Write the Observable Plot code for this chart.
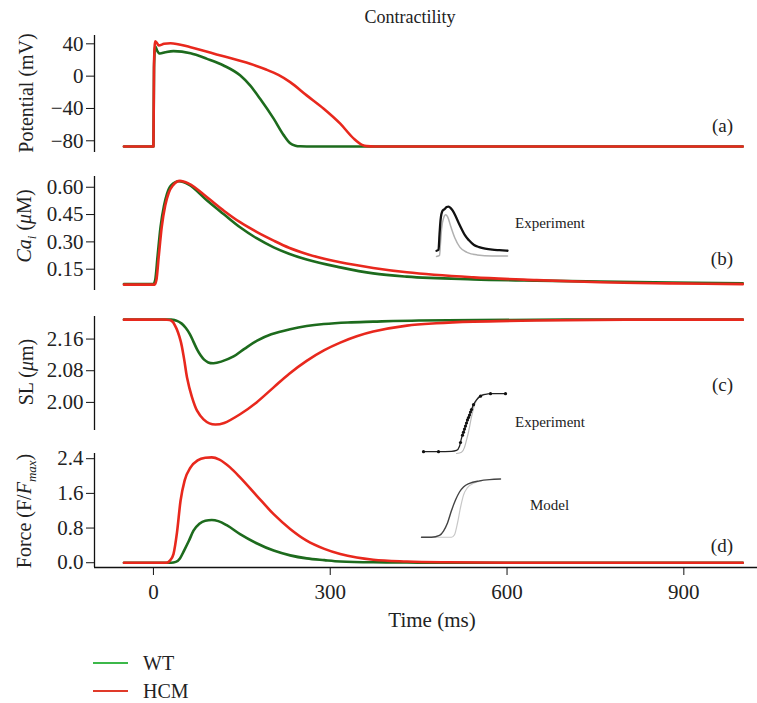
<!DOCTYPE html>
<html><head><meta charset="utf-8">
<script src="https://cdn.jsdelivr.net/npm/d3@7"></script>
<script src="https://cdn.jsdelivr.net/npm/@observablehq/plot@0.6"></script>
<style>
body{margin:0;background:#fff;}
#chart{position:relative;width:757px;height:703px;font-family:"Liberation Serif",serif;color:#222;overflow:hidden;}
#chart svg{position:absolute;left:0;overflow:visible;background:transparent;}
.t{position:absolute;white-space:nowrap;line-height:1;}
.ylab{position:absolute;white-space:nowrap;line-height:1;transform:translate(-50%,-50%) rotate(-90deg);font-size:20px;}
.sw{position:absolute;height:0;width:35px;border-top:2px solid;}
</style></head><body><div id="chart"></div><script>
// ---------- data ----------
const seriesNames = ["WT", "HCM"];
const xTicks = [0, 300, 600, 900];

// (a) membrane potential, mV
const wtVoltT = [-50, -1, 0, 1, 3, 6, 11, 20, 34, 63, 91, 119, 147, 164, 181, 204, 221, 232, 241, 249, 260, 300, 400, 600, 800, 1000];
const wtVolt  = [-87, -87, -87, 10, 37, 32, 28, 29.5, 31, 28.4, 21.4, 13.2, 1, -11.5, -28, -52.6, -73, -83, -86, -86.8, -87, -87, -87, -87, -87, -87];
const hcmVoltT = [-50, -1, 0, 1, 3, 6, 9, 18, 29, 63, 114, 164, 190, 212, 232, 260, 289, 317, 340, 354, 362, 375, 400, 600, 800, 1000];
const hcmVolt  = [-87, -87, -87, 15, 43, 41, 38, 40, 40.8, 35.8, 25.5, 15.3, 8.5, 1.5, -7.4, -23.8, -40.3, -58.8, -77.3, -85, -86.6, -87, -87, -87, -87, -87];
const voltTicks = [-80, -40, 0, 40];

// (b) Ca_i, uM
const wtCaT = [-50, 0, 3, 7, 12, 18, 23, 30, 43, 60, 91, 120, 147, 175, 204, 230, 260, 317, 373, 430, 543, 650, 758, 880, 1000];
const wtCa  = [0.069, 0.069, 0.09, 0.22, 0.38, 0.5, 0.564, 0.61, 0.633, 0.615, 0.527, 0.45, 0.38, 0.32, 0.27, 0.235, 0.203, 0.16, 0.127, 0.109, 0.094, 0.087, 0.082, 0.077, 0.073];
const hcmCaT = [-50, 2, 5, 9, 14, 20, 26, 33, 45, 60, 91, 120, 147, 175, 204, 230, 260, 317, 373, 430, 543, 650, 758, 880, 1000];
const hcmCa  = [0.065, 0.065, 0.09, 0.22, 0.38, 0.5, 0.57, 0.61, 0.635, 0.62, 0.545, 0.47, 0.408, 0.355, 0.307, 0.268, 0.234, 0.188, 0.157, 0.133, 0.105, 0.09, 0.078, 0.072, 0.068];
const caTicks = [0.15, 0.30, 0.45, 0.60];

// (c) sarcomere length, um
const wtSlT = [-50, 0, 30, 40, 48, 55, 62, 68, 74, 80, 86, 93, 102, 115, 136, 155, 176, 200, 232, 260, 289, 330, 373, 450, 550, 700, 1000];
const wtSl  = [2.209, 2.209, 2.209, 2.206, 2.199, 2.188, 2.172, 2.153, 2.134, 2.119, 2.108, 2.101, 2.099, 2.103, 2.116, 2.136, 2.156, 2.172, 2.185, 2.193, 2.198, 2.202, 2.204, 2.207, 2.208, 2.209, 2.209];
const hcmSlT = [-50, 0, 20, 31, 38, 46, 52, 57, 65, 74, 85, 95, 105, 120, 147, 175, 204, 230, 260, 290, 317, 345, 373, 430, 480, 543, 650, 800, 1000];
const hcmSl  = [2.209, 2.209, 2.209, 2.206, 2.19, 2.156, 2.11, 2.063, 2.015, 1.979, 1.957, 1.947, 1.944, 1.948, 1.97, 2.0, 2.038, 2.072, 2.105, 2.132, 2.151, 2.167, 2.179, 2.194, 2.2, 2.204, 2.207, 2.209, 2.209];
const slTicks = [2.00, 2.08, 2.16];

// (d) force, F/Fmax
const wtForceT = [-50, -20, 0, 20, 30, 38, 45, 52, 60, 68, 78, 88, 99, 110, 125, 147, 175, 204, 232, 260, 290, 317, 373, 430, 500, 600, 800, 1000];
const wtForce  = [0, 0, 0, 0, 0, 0.02, 0.1, 0.28, 0.5, 0.74, 0.9, 0.97, 0.985, 0.96, 0.86, 0.66, 0.45, 0.28, 0.17, 0.1, 0.06, 0.03, 0.01, 0.005, 0, 0, 0, 0];
const hcmForceT = [-50, -20, 0, 15, 22, 28, 34, 40, 46, 53, 63, 75, 88, 99, 112, 130, 147, 175, 204, 232, 260, 290, 317, 345, 373, 430, 500, 600, 800, 1000];
const hcmForce  = [0, 0, 0, 0, 0, 0.05, 0.2, 0.7, 1.43, 1.9, 2.2, 2.36, 2.42, 2.43, 2.38, 2.2, 1.97, 1.55, 1.12, 0.78, 0.51, 0.32, 0.2, 0.12, 0.07, 0.03, 0.01, 0, 0, 0];
const forceTicks = [0.0, 0.8, 1.6, 2.4];

// insets (normalised picture units)
const insCaT     = [0, 2, 3, 4, 6, 8, 10, 12, 14, 16, 19, 22, 25, 28, 32, 37, 42, 48, 55, 62, 70];
const insCaBlack = [0.13, 0.15, 0.45, 0.72, 0.9, 0.93, 0.97, 0.98, 0.95, 0.9, 0.79, 0.66, 0.54, 0.43, 0.33, 0.24, 0.2, 0.17, 0.15, 0.14, 0.13];
const insCaGrayT = [0, 3, 4, 5, 7, 9, 11, 14, 18, 23, 30, 40, 55, 70];
const insCaGray  = [0.02, 0.04, 0.3, 0.55, 0.76, 0.82, 0.78, 0.6, 0.38, 0.2, 0.1, 0.05, 0.03, 0.03];

const insSlT     = [0, 15, 28, 33, 36, 38, 40, 42, 44, 46, 48, 50, 53, 57, 62, 67, 75, 82];
const insSlBlack = [0.03, 0.03, 0.035, 0.05, 0.12, 0.25, 0.35, 0.45, 0.55, 0.63, 0.72, 0.8, 0.88, 0.94, 0.97, 0.98, 0.98, 0.98];
const insSlDotT  = [0, 15, 37, 39, 40, 41, 42, 43, 44, 45, 46, 47, 48, 50, 57, 67, 82];
const insSlDot   = [0.03, 0.03, 0.18, 0.3, 0.35, 0.4, 0.45, 0.5, 0.55, 0.59, 0.63, 0.68, 0.72, 0.8, 0.94, 0.98, 0.98];
const insSlGrayT = [33, 38, 41, 43, 45, 48, 51, 55, 60];
const insSlGray  = [0.0, 0.02, 0.1, 0.22, 0.35, 0.6, 0.8, 0.92, 0.97];

const insModT     = [0, 10, 18, 22, 26, 30, 34, 38, 42, 48, 58, 68, 79];
const insModBlack = [0.02, 0.02, 0.05, 0.12, 0.25, 0.45, 0.62, 0.75, 0.83, 0.89, 0.93, 0.95, 0.96];
const insModGrayT = [0, 30, 33, 36, 39, 42, 46, 52, 60];
const insModGray  = [0.02, 0.02, 0.06, 0.25, 0.5, 0.7, 0.82, 0.89, 0.93];

// ---------- drawing ----------
const GREEN = "#1d6b1d", RED = "#e8281d";
const chart = document.getElementById("chart");
const W = 757, ML = 94, MT = 12, MB = 12;
const xDomain = [-100, 1025];

function tidy(wt, hcm) {
  return [
    ...wt[0].map((t, i) => ({t, v: wt[1][i], s: seriesNames[0]})),
    ...hcm[0].map((t, i) => ({t, v: hcm[1][i], s: seriesNames[1]}))
  ];
}

function panel(o) {
  const mb = o.xaxis ? 72 : MB;
  const h = MT + o.h + mb;
  const marks = [
    Plot.ruleX([xDomain[0]], {stroke: "#111", strokeWidth: 1.3}),
    Plot.axisY({ticks: o.ticks, tickFormat: o.fmt, tickSize: 8, tickPadding: 3, label: null, stroke: "#111"}),
    Plot.line(tidy(o.wt, o.hcm), {x: "t", y: "v", z: "s", stroke: "s", strokeWidth: 2.6, curve: o.curve || "catmull-rom"})
  ];
  if (o.xaxis) {
    marks.push(Plot.ruleY([o.yd[0]], {stroke: "#111", strokeWidth: 1.3}));
    marks.push(Plot.axisX({ticks: xTicks, tickSize: 8, tickPadding: 9, label: null, stroke: "#111"}));
  }
  const p = Plot.plot({
    width: W, height: h,
    marginLeft: ML, marginRight: 0, marginTop: MT, marginBottom: mb,
    style: {fontFamily: "Liberation Serif, serif", fontSize: "21px", color: "#222", background: "transparent"},
    x: {domain: xDomain, axis: o.xaxis ? undefined : null},
    y: {domain: o.yd},
    color: {domain: seriesNames, range: [GREEN, RED]},
    marks
  });
  p.style.top = (o.top - MT) + "px";
  chart.appendChild(p);
}

panel({top: 35, h: 117, yd: [-94.5, 50.3], ticks: voltTicks, fmt: d3.format(""), wt: [wtVoltT, wtVolt], hcm: [hcmVoltT, hcmVolt], curve: "monotone-x"});
panel({top: 176, h: 114, yd: [0.033, 0.659], ticks: caTicks, fmt: d3.format(".2f"), wt: [wtCaT, wtCa], hcm: [hcmCaT, hcmCa], curve: "monotone-x"});
panel({top: 316, h: 114, yd: [1.929, 2.217], ticks: slTicks, fmt: d3.format(".2f"), wt: [wtSlT, wtSl], hcm: [hcmSlT, hcmSl]});
panel({top: 453, h: 114, yd: [-0.11, 2.52], ticks: forceTicks, fmt: d3.format(".1f"), wt: [wtForceT, wtForce], hcm: [hcmForceT, hcmForce], xaxis: true, curve: "monotone-x"});

function inset(o) {
  const marks = o.lines.map(l => Plot.line(l.t.map((t, i) => ({t, v: l.v[i]})), {x: "t", y: "v", stroke: l.c, strokeWidth: l.w, curve: "monotone-x"}));
  if (o.dots) marks.push(Plot.dot(o.dots.t.map((t, i) => ({t, v: o.dots.v[i]})), {x: "t", y: "v", r: 1.6, fill: "#111"}));
  const p = Plot.plot({
    width: o.w, height: o.h, margin: 0,
    style: {background: "transparent"},
    x: {domain: o.xd, axis: null}, y: {domain: [0, 1], axis: null},
    marks
  });
  p.style.left = o.left + "px";
  p.style.top = o.top + "px";
  chart.appendChild(p);
}
inset({left: 436, top: 205, w: 71, h: 52, xd: [0, 70], lines: [
  {t: insCaGrayT, v: insCaGray, c: "#b0b0b0", w: 1.5},
  {t: insCaT, v: insCaBlack, c: "#111", w: 2.3}]});
inset({left: 423, top: 392, w: 83, h: 61, xd: [0, 83], lines: [
  {t: insSlGrayT, v: insSlGray, c: "#bbb", w: 1.2},
  {t: insSlT, v: insSlBlack, c: "#222", w: 1.3}], dots: {t: insSlDotT, v: insSlDot}});
inset({left: 421, top: 476, w: 80, h: 62, xd: [0, 80], lines: [
  {t: insModGrayT, v: insModGray, c: "#c8c8c8", w: 1.2},
  {t: insModT, v: insModBlack, c: "#444", w: 1.4}]});

// ---------- text ----------
function txt(html, left, top, size, extra) {
  const d = document.createElement("div");
  d.className = "t";
  d.innerHTML = html;
  d.style.left = left + "px";
  d.style.top = top + "px";
  d.style.fontSize = size + "px";
  if (extra) Object.assign(d.style, extra);
  chart.appendChild(d);
  return d;
}
txt("Contractility", 410, 17, 18, {transform: "translate(-50%,-50%)"});
txt("Time (ms)", 432, 620, 21, {transform: "translate(-50%,-50%)"});
txt("(a)", 733, 125, 19, {transform: "translate(-100%,-50%)"});
txt("(b)", 733, 258, 19, {transform: "translate(-100%,-50%)"});
txt("(c)", 733, 384, 19, {transform: "translate(-100%,-50%)"});
txt("(d)", 733, 545, 19, {transform: "translate(-100%,-50%)"});
txt("Experiment", 515, 223, 15, {transform: "translate(0,-50%)"});
txt("Experiment", 515, 422, 15, {transform: "translate(0,-50%)"});
txt("Model", 530, 505, 15, {transform: "translate(0,-50%)"});

function ylab(html, top) {
  const d = document.createElement("div");
  d.className = "ylab";
  d.innerHTML = html;
  d.style.left = "26px";
  d.style.top = top + "px";
  chart.appendChild(d);
}
ylab("Potential (mV)", 93);
ylab("<i>Ca</i><sub style='font-size:13px'><i>i</i></sub> (<i>μ</i>M)", 226);
ylab("SL (<i>μ</i>m)", 372);
ylab("Force (F/<i>F</i><sub style='font-size:13px'><i>max</i></sub>)", 511);

// legend
const legendColors = ["#3cb84a", "#e03a2a"];
seriesNames.forEach((name, i) => {
  const y = 663 + i * 28;
  const s = document.createElement("div");
  s.className = "sw";
  s.style.left = "93px";
  s.style.top = (y - 1) + "px";
  s.style.borderTopColor = legendColors[i];
  chart.appendChild(s);
  txt(name, 143, y, 20, {transform: "translate(0,-50%)"});
});
</script></body></html>
